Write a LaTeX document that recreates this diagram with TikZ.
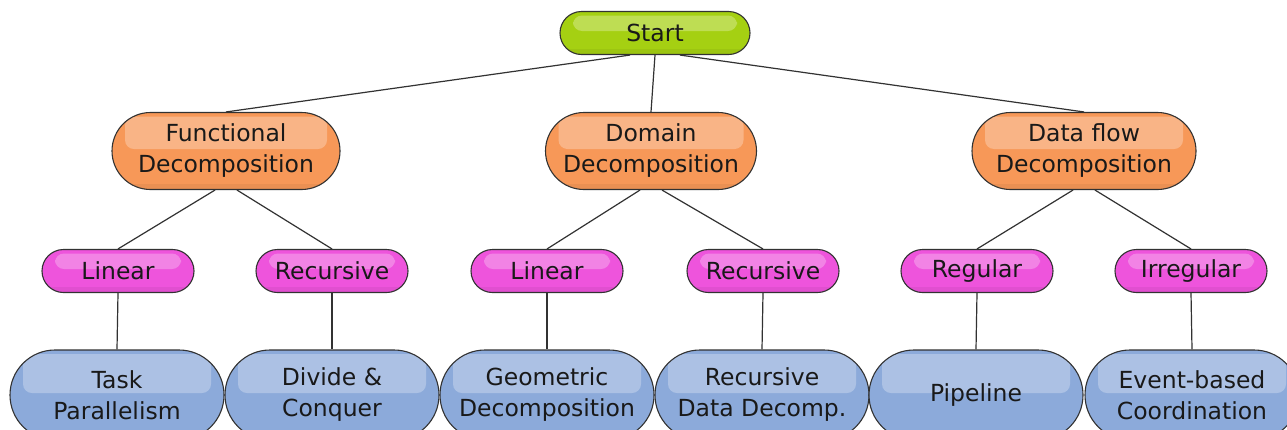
\documentclass[tikz,border=0pt]{standalone}
\usepackage{fontspec}
\setmainfont{DejaVu Sans}
\usetikzlibrary{shapes.misc,calc}
\definecolor{cgreen}{RGB}{165,208,18}
\definecolor{corange}{RGB}{247,152,88}
\definecolor{cpink}{RGB}{238,84,220}
\definecolor{cblue}{RGB}{140,170,218}
\definecolor{cedge}{RGB}{50,50,50}
\definecolor{ctext}{RGB}{25,25,25}
\tikzset{
  pill/.style={rounded rectangle, draw=cedge, line width=1.1pt, inner sep=0pt,
    align=center, text=ctext, font=\fontsize{23.5}{31}\selectfont,
    path picture={
      \fill[white,opacity=0.28,rounded corners=9pt]
        ($(path picture bounding box.north west)+(13pt,-4pt)$) rectangle
        ($(path picture bounding box.east)+(-13pt,2pt)$);
      \fill[black,opacity=0.05]
        ($(path picture bounding box.south west)+(0,6pt)$) rectangle
        (path picture bounding box.south east);
    }},
  startbox/.style={pill, fill=cgreen, minimum width=190pt, minimum height=43pt},
  decbox/.style={pill, fill=corange, minimum height=77pt},
  subbox/.style={pill, fill=cpink, minimum width=152pt, minimum height=43pt},
  leafbox/.style={pill, fill=cblue, minimum width=214pt, minimum height=90pt},
  conn/.style={draw=cedge, line width=1.2pt}
}
\begin{document}
\begin{tikzpicture}[x=1pt,y=1pt]
\clip (0,0) rectangle (1287,-429);
\fill[white] (0,0) rectangle (1287,-429);
\node[startbox] (start) at (655,-33) {Start};
\node[decbox, minimum width=228pt] (func) at (226,-151) {Functional\\Decomposition};
\node[decbox, minimum width=211pt] (dom) at (651,-151) {Domain\\Decomposition};
\node[decbox, minimum width=224pt] (flow) at (1084,-151) {Data flow\\Decomposition};
\node[subbox] (lin1) at (118,-271) {Linear};
\node[subbox] (rec1) at (332,-271) {Recursive};
\node[subbox] (lin2) at (547,-271) {Linear};
\node[subbox] (rec2) at (763,-271) {Recursive};
\node[subbox] (reg) at (977,-271) {Regular};
\node[subbox] (irr) at (1191,-271) {Irregular};
\node[leafbox] (task) at (117,-395) {Task\\Parallelism};
\node[leafbox] (div) at (332,-395) {Divide \&\\Conquer};
\node[leafbox] (geo) at (547,-395) {Geometric\\Decomposition};
\node[leafbox] (rdd) at (762,-395) {Recursive\\Data Decomp.};
\node[leafbox] (pipe) at (976,-395) {Pipeline};
\node[leafbox] (evt) at (1192,-395) {Event-based\\Coordination};
% connectors
\draw[conn] ([xshift=-25pt]start.south) -- (func.north);
\draw[conn] (start.south) -- (dom.north);
\draw[conn] ([xshift=25pt]start.south) -- (flow.north);
\draw[conn] ([xshift=-11pt]func.south) -- (lin1.north);
\draw[conn] ([xshift=11pt]func.south) -- (rec1.north);
\draw[conn] ([xshift=-11pt]dom.south) -- (lin2.north);
\draw[conn] ([xshift=11pt]dom.south) -- (rec2.north);
\draw[conn] ([xshift=-11pt]flow.south) -- (reg.north);
\draw[conn] ([xshift=11pt]flow.south) -- (irr.north);
\draw[conn] (lin1.south) -- (task.north);
\draw[conn] (rec1.south) -- (div.north);
\draw[conn] (lin2.south) -- (geo.north);
\draw[conn] (rec2.south) -- (rdd.north);
\draw[conn] (reg.south) -- (pipe.north);
\draw[conn] (irr.south) -- (evt.north);
\end{tikzpicture}
\end{document}
